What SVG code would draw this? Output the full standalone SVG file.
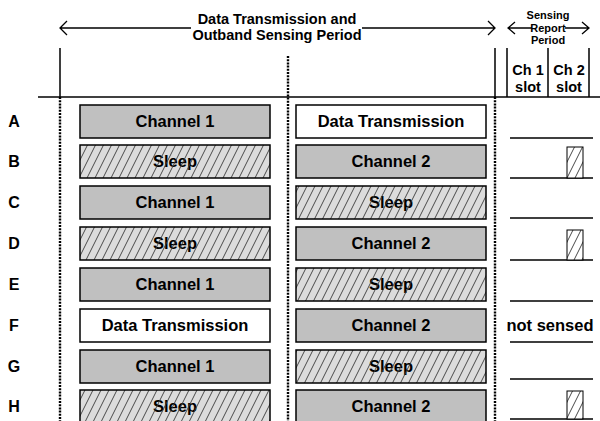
<svg xmlns="http://www.w3.org/2000/svg" width="600" height="421" viewBox="0 0 600 421">
<defs>
<pattern id="hatch" patternUnits="userSpaceOnUse" width="8" height="16">
<path d="M0,16 L8,0 M-1,2 L0,0 M8,16 L9,14" stroke="#3a3a3a" stroke-width="0.9"/>
</pattern>
<pattern id="hatchw" patternUnits="userSpaceOnUse" width="8" height="16">
<rect width="8" height="16" fill="#fff"/>
<path d="M0,16 L8,0 M-1,2 L0,0 M8,16 L9,14" stroke="#333" stroke-width="0.9"/>
</pattern>
</defs>
<style>
text{font-family:"Liberation Sans",Arial,sans-serif;font-weight:bold;fill:#000;text-anchor:middle}
.box{font-size:16.5px}
.lbl{font-size:16px}
.hdr{font-size:14.5px}
.sm{font-size:11px}
.cs{font-size:14.5px}
.ch{fill:#c0c0c0;stroke:#000;stroke-width:1.5}
.dt{fill:#fff;stroke:#000;stroke-width:1.5}
.slb{fill:#dcdcdc;stroke:none}
.sl{fill:url(#hatch);stroke:#000;stroke-width:1.5}
.slot{fill:url(#hatchw);stroke:#000;stroke-width:1}
.ln{stroke:#000;stroke-width:1.5;fill:none}
.dot{stroke:#000;stroke-width:2.4;stroke-dasharray:2,1.2;fill:none}
.arr{stroke:#000;stroke-width:1.3;fill:none}
</style>
<g id="connectors">
<path class="ln" d="M38,97 H600"/>
<path class="ln" d="M60,48 V97 M495,48 V97 M507,48 V97 M548,48 V97 M589,48 V97"/>
<path class="dot" d="M60,97 V421 M288,56 V421 M495,97 V421"/>
<path class="arr" d="M60,28 H191 M362,28 H495 M67,21 L60,28 L67,35 M488,21 L495,28 L488,35"/>
<path class="arr" d="M508,28 H532 M565,28 H589 M515,22 L508,28 L515,34 M582,22 L589,28 L582,34"/>
<path class="ln" d="M510,138 H593 M510,178 H593 M510,218 H593 M510,260 H593 M510,301 H593 M510,342 H593 M510,379 H593 M510,419 H593"/>
</g>
<g id="header">
<text class="hdr" x="277" y="24">Data Transmission and</text>
<text class="hdr" x="277" y="40">Outband Sensing Period</text>
<text class="sm" x="548" y="19">Sensing</text>
<text class="sm" x="548" y="32">Report</text>
<text class="sm" x="548" y="44">Period</text>
<text class="cs" x="528" y="75">Ch 1</text>
<text class="cs" x="528" y="92">slot</text>
<text class="cs" x="569" y="75">Ch 2</text>
<text class="cs" x="569" y="92">slot</text>
</g>
<g id="rowA">
<text class="lbl" x="14" y="127">A</text>
<rect class="ch" x="80" y="105" width="190" height="33"/><text class="box" x="175" y="127">Channel 1</text>
<rect class="dt" x="296" y="105" width="190" height="33"/><text class="box" x="391" y="127">Data Transmission</text>
</g>
<g id="rowB">
<text class="lbl" x="14" y="167">B</text>
<rect class="slb" x="80" y="145" width="190" height="33"/><text class="box" x="175" y="167">Sleep</text><rect class="sl" x="80" y="145" width="190" height="33"/>
<rect class="ch" x="296" y="145" width="190" height="33"/><text class="box" x="391" y="167">Channel 2</text>
<rect class="slot" x="567" y="147" width="16" height="31"/>
</g>
<g id="rowC">
<text class="lbl" x="14" y="208">C</text>
<rect class="ch" x="80" y="186" width="190" height="33"/><text class="box" x="175" y="208">Channel 1</text>
<rect class="slb" x="296" y="186" width="190" height="33"/><text class="box" x="391" y="208">Sleep</text><rect class="sl" x="296" y="186" width="190" height="33"/>
</g>
<g id="rowD">
<text class="lbl" x="14" y="249">D</text>
<rect class="slb" x="80" y="227" width="190" height="33"/><text class="box" x="175" y="249">Sleep</text><rect class="sl" x="80" y="227" width="190" height="33"/>
<rect class="ch" x="296" y="227" width="190" height="33"/><text class="box" x="391" y="249">Channel 2</text>
<rect class="slot" x="567" y="230" width="16" height="30"/>
</g>
<g id="rowE">
<text class="lbl" x="14" y="290">E</text>
<rect class="ch" x="80" y="268" width="190" height="33"/><text class="box" x="175" y="290">Channel 1</text>
<rect class="slb" x="296" y="268" width="190" height="33"/><text class="box" x="391" y="290">Sleep</text><rect class="sl" x="296" y="268" width="190" height="33"/>
</g>
<g id="rowF">
<text class="lbl" x="14" y="331">F</text>
<rect class="dt" x="80" y="309" width="190" height="33"/><text class="box" x="175" y="331">Data Transmission</text>
<rect class="ch" x="296" y="309" width="190" height="33"/><text class="box" x="391" y="331">Channel 2</text>
<text class="box" x="550" y="331">not sensed</text>
</g>
<g id="rowG">
<text class="lbl" x="14" y="372">G</text>
<rect class="ch" x="80" y="350" width="190" height="33"/><text class="box" x="175" y="372">Channel 1</text>
<rect class="slb" x="296" y="350" width="190" height="33"/><text class="box" x="391" y="372">Sleep</text><rect class="sl" x="296" y="350" width="190" height="33"/>
</g>
<g id="rowH">
<text class="lbl" x="14" y="412">H</text>
<rect class="slb" x="80" y="390" width="190" height="33"/><text class="box" x="175" y="412">Sleep</text><rect class="sl" x="80" y="390" width="190" height="33"/>
<rect class="ch" x="296" y="390" width="190" height="33"/><text class="box" x="391" y="412">Channel 2</text>
<rect class="slot" x="567" y="391" width="16" height="28"/>
</g>
</svg>
